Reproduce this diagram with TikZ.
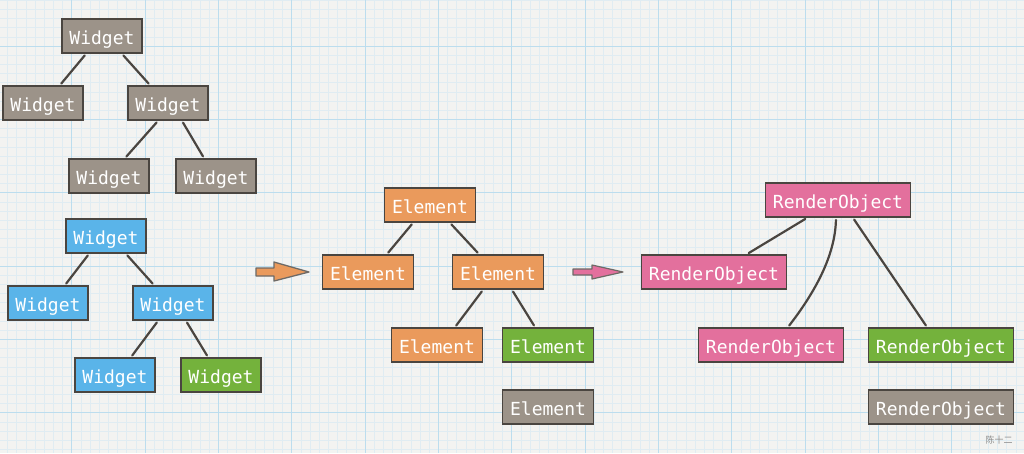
\documentclass[tikz,border=0pt]{standalone}
\usepackage{fontspec}
\setmonofont{DejaVu Sans Mono}
\newfontfamily\cjkfont{Noto Sans CJK SC}
\definecolor{paper}{HTML}{F3F3F1}
\definecolor{gridminor}{HTML}{E0ECF2}
\definecolor{gridmajor}{HTML}{BCDDEE}
\definecolor{ink}{HTML}{4A4540}
\definecolor{greyfill}{HTML}{9C9389}
\definecolor{bluefill}{HTML}{5AB4E9}
\definecolor{greenfill}{HTML}{74B23C}
\definecolor{orangefill}{HTML}{EA9A5C}
\definecolor{pinkfill}{HTML}{E3709D}

\begin{document}
\begin{tikzpicture}[x=1pt,y=-1pt,
  box/.style={draw=ink,line width=1.8pt,text=white,inner xsep=7.5pt,inner ysep=0pt,
    minimum height=34pt,text height=16pt,text depth=0pt,
    font=\ttfamily\fontsize{18}{20}\selectfont},
  greynode/.style={box,fill=greyfill},
  bluenode/.style={box,fill=bluefill},
  greennode/.style={box,fill=greenfill},
  orangenode/.style={box,fill=orangefill},
  pinknode/.style={box,fill=pinkfill},
  link/.style={draw=ink,line width=2.2pt,line cap=round,shorten <=2pt,shorten >=2pt}]
\useasboundingbox (0,0) rectangle (1024,453);
\fill[paper] (0,0) rectangle (1024,453);
\begin{scope}
\clip (0,0) rectangle (1024,453);
\foreach \i in {0,...,112}
  \draw[gridminor,line width=0.6pt] ({-1.67+9.1667*\i},0) -- ({-1.67+9.1667*\i},453);
\foreach \i in {0,...,49}
  \draw[gridminor,line width=0.6pt] (0,{0.17+9.1667*\i}) -- (1024,{0.17+9.1667*\i});
\foreach \i in {0,...,14}
  \draw[gridmajor,line width=0.9pt] ({-1.67+73.333*\i},0) -- ({-1.67+73.333*\i},453);
\foreach \i in {0,...,6}
  \draw[gridmajor,line width=0.9pt] (0,{46+73.333*\i}) -- (1024,{46+73.333*\i});
\end{scope}

\node[greynode] (w1) at (102,36) {Widget};
\node[greynode] (w2) at (43,103) {Widget};
\node[greynode] (w3) at (168,103) {Widget};
\node[greynode] (w4) at (109,176) {Widget};
\node[greynode] (w5) at (216,176) {Widget};
\draw[link] ([xshift=-16pt]w1.south) -- ([xshift=17pt]w2.north);
\draw[link] ([xshift=20pt]w1.south) -- ([xshift=-18pt]w3.north);
\draw[link] ([xshift=-10pt]w3.south) -- ([xshift=16pt]w4.north);
\draw[link] ([xshift=14pt]w3.south) -- ([xshift=-12pt]w5.north);

\node[bluenode] (b1) at (106,236) {Widget};
\node[bluenode] (b2) at (48,303) {Widget};
\node[bluenode] (b3) at (173,303) {Widget};
\node[bluenode] (b4) at (115,375) {Widget};
\node[greennode] (b5) at (221,375) {Widget};
\draw[link] ([xshift=-17pt]b1.south) -- ([xshift=17pt]b2.north);
\draw[link] ([xshift=20pt]b1.south) -- ([xshift=-19pt]b3.north);
\draw[link] ([xshift=-15pt]b3.south) -- ([xshift=16pt]b4.north);
\draw[link] ([xshift=13pt]b3.south) -- ([xshift=-13pt]b5.north);

\filldraw[fill=orangefill,draw=ink!80,line width=1.3pt,line join=round]
  (256,268) -- (274,268) -- (274,262) -- (309,272) -- (274,281) -- (274,276) -- (256,276) -- cycle;

\node[orangenode] (e1) at (430,205) {Element};
\node[orangenode] (e2) at (368,272) {Element};
\node[orangenode] (e3) at (498,272) {Element};
\node[orangenode] (e4) at (437,345) {Element};
\node[greennode] (e5) at (548,345) {Element};
\node[greynode] (e6) at (548,407) {Element};
\draw[link] ([xshift=-17pt]e1.south) -- ([xshift=19pt]e2.north);
\draw[link] ([xshift=20pt]e1.south) -- ([xshift=-19pt]e3.north);
\draw[link] ([xshift=-15pt]e3.south) -- ([xshift=18pt]e4.north);
\draw[link] ([xshift=14pt]e3.south) -- ([xshift=-13pt]e5.north);

\filldraw[fill=pinkfill,draw=ink!80,line width=1.2pt,line join=round]
  (573,269) -- (592,269) -- (592,265) -- (623,272) -- (592,279) -- (592,275) -- (573,275) -- cycle;

\node[pinknode] (r1) at (838,200) {RenderObject};
\node[pinknode] (r2) at (714,272) {RenderObject};
\node[pinknode] (r3) at (771,345) {RenderObject};
\node[greennode] (r4) at (941,345) {RenderObject};
\node[greynode] (r5) at (941,407) {RenderObject};
\draw[link] ([xshift=-31pt]r1.south) -- ([xshift=33pt]r2.north);
\draw[link] ([xshift=-2pt]r1.south) .. controls +(-1,38) and +(27,-35) .. ([xshift=17pt]r3.north);
\draw[link] ([xshift=15pt]r1.south) -- ([xshift=-14pt]r4.north);

\node[text=black!45,font=\cjkfont\fontsize{9}{10}\selectfont] (mark) at (999,440) {陈十二};
\end{tikzpicture}
\end{document}
